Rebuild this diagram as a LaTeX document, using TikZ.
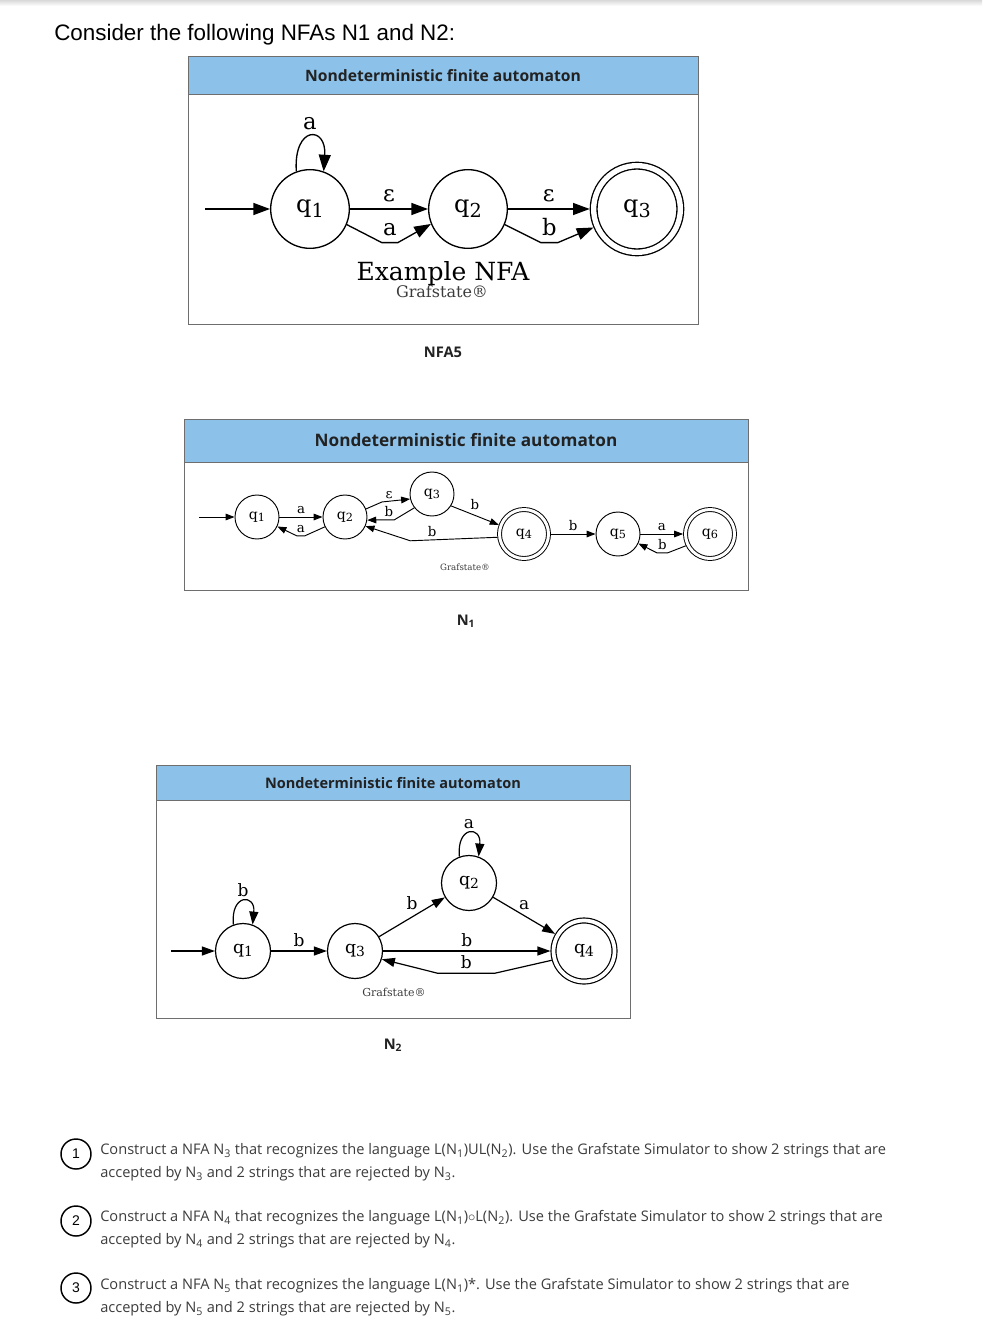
\documentclass[tikz,border=0pt]{standalone}
\usepackage{fontspec}
\setmainfont{Open Sans}
\newfontfamily\arialfont{Liberation Sans}
\newfontfamily\gvfont{DejaVu Serif}
\usetikzlibrary{arrows.meta, calc, positioning}

\definecolor{bandblue}{HTML}{8CC2EA}
\definecolor{framegray}{HTML}{6E6E6E}
\definecolor{inkgray}{HTML}{3C3C3C}
\definecolor{headink}{HTML}{222222}

% state label with graphviz-like subscript
\newcommand{\qn}[1]{q\raisebox{-0.35ex}{\scalebox{0.8}{#1}}}

\tikzset{
  panel/.style={draw=framegray, line width=0.75pt, fill=white},
  band/.style={draw=framegray, line width=0.75pt, fill=bandblue},
  bandtxt/.style={text=headink, inner sep=0pt},
  caption/.style={text=headink, font=\bfseries\fontsize{11}{13}\selectfont},
  stamp/.style={text=inkgray, inner sep=0pt, anchor=base},
  nstate/.style={circle, draw, inner sep=0pt, font=\gvfont},
  accept/.style={nstate, double},
  trans/.style={draw},
  lbl/.style={font=\gvfont, inner sep=0pt, anchor=base},
  qnum/.style={circle, draw, line width=1.1pt, minimum size=22.5pt, inner sep=0pt,
    font=\arialfont\fontsize{10.5}{12}\selectfont},
  qtext/.style={anchor=base west, inner sep=0pt, text=inkgray,
    font=\fontsize{10.95}{14}\selectfont}
}

\begin{document}
\begin{tikzpicture}[x=0.75pt, y=-0.75pt]
    \useasboundingbox (0,0) rectangle (982,1334);
    \fill[white] (0,0) rectangle (982,1334);
    \shade[top color=gray!30, bottom color=white] (0,0) rectangle (982,6);

    \node[anchor=base west, inner sep=0pt, font=\arialfont\fontsize{16.8}{19}\selectfont]
        (title) at (54,40.5) {Consider the following NFAs N1 and N2:};

    % ---------- NFA5 ----------
    \draw[panel] (188,57) rectangle (698,324);
    \draw[band] (188,57) rectangle (698,95);
    \node[bandtxt, font=\bfseries\fontsize{11.75}{13}\selectfont] (headA) at (443,76)
        {Nondeterministic finite automaton};

    \begin{scope}[
        nstate/.append style={minimum size=59pt, line width=1pt, font=\gvfont\fontsize{18}{18}\selectfont},
        accept/.append style={minimum size=65pt, double distance=4pt, outer sep=3pt},
        trans/.append style={line width=1pt, -{Triangle[length=12.5pt, width=9pt]}},
        lbl/.append style={font=\gvfont\fontsize{17}{17}\selectfont, yshift=5.3pt}]

    % Define the states
    \coordinate (a0) at (205,209);
    \node[nstate] (a1) at (310,209) {\qn{1}};
    \node[nstate] (a2) at (468,209) {\qn{2}};
    \node[accept] (a3) at (637,209) {\qn{3}};

    % Transitions
    \draw[trans] (a0) -- (a1);
    \draw[trans] (a1.110) .. controls +(-3,-46) and +(3,-46) .. (a1.70) node[lbl, midway] {a};
    \draw[trans] (a1) -- (a2) node[lbl, midway] {ε};
    \draw[trans] (a1.-23) -- ++(35,18) -- ++(16,0) node[lbl, midway] {a} -- (a2.-158);
    \draw[trans] (a2) -- (a3) node[lbl, midway] {ε};
    \draw[trans] (a2.-23) -- ++(36,18) -- ++(17,0) node[lbl, midway] {b} -- (a3.-157);
    \end{scope}

    \node[stamp, font=\gvfont\fontsize{18.75}{19}\selectfont, text=black] (exname) at (443,280) {Example NFA};
    \node[stamp, font=\gvfont\fontsize{12}{13}\selectfont] (stampA) at (442,297) {Grafstate®};
    \node[caption] (capA) at (443,352) {NFA5};

    % ---------- N1 ----------
    \draw[panel] (184,419) rectangle (748,590);
    \draw[band] (184,419) rectangle (748,462);
    \node[bandtxt, font=\bfseries\fontsize{12.9}{14}\selectfont] (headB) at (466,440)
        {Nondeterministic finite automaton};

    \begin{scope}[
        nstate/.append style={minimum size=33pt, line width=0.7pt, font=\gvfont\fontsize{10.5}{11}\selectfont},
        accept/.append style={minimum size=36.75pt, double distance=2.25pt, outer sep=1.8pt},
        trans/.append style={line width=0.7pt, -{Triangle[length=6.75pt, width=5pt]}},
        lbl/.append style={font=\gvfont\fontsize{10}{10}\selectfont, yshift=2.3pt}]

    % Define the states
    \coordinate (b0) at (199,517);
    \node[nstate] (b1) at (257,517) {\qn{1}};
    \node[nstate] (b2) at (345,517) {\qn{2}};
    \node[nstate] (b3) at (432,494) {\qn{3}};
    \node[accept] (b4) at (524,534) {\qn{4}};
    \node[nstate] (b5) at (618,534) {\qn{5}};
    \node[accept] (b6) at (710,534) {\qn{6}};

    % Transitions
    \draw[trans] (b0) -- (b1);
    \draw[trans] (b1) -- (b2) node[lbl, midway] {a};
    \draw[trans] (b2.-154) -- ++(-20,9) -- ++(-8,0) node[lbl, midway] {a} -- (b1.-25);
    \draw[trans] (b2.21) -- ++(16,-7) -- (b3.-167) node[lbl, pos=0.25] {ε};
    \draw[trans] (b3.-142) -- ++(-20,12) -- ++(-11,0) node[lbl, midway] {b} -- (b2.-8);
    \draw[trans] (b3.-32) -- (b4.160) node[lbl, midway, yshift=2pt] {b};
    \draw[trans] (b4.-173) -- ++(-87,3.5) node[lbl, pos=0.75] {b} -- (b2.-24);
    \draw[trans] (b4) -- (b5) node[lbl, midway] {b};
    \draw[trans] (b5) -- (b6) node[lbl, midway] {a};
    \draw[trans] (b6.-154) -- ++(-18,7) -- ++(-11,0) node[lbl, midway] {b} -- (b5.-25);
    \end{scope}

    \node[stamp, font=\gvfont\fontsize{6.5}{7}\selectfont] (stampB) at (465,570) {Grafstate®};
    \node[caption] (capB) at (466,621) {N\textsubscript{1}};

    % ---------- N2 ----------
    \draw[panel] (156,765) rectangle (630,1018);
    \draw[band] (156,765) rectangle (630,800);
    \node[bandtxt, font=\bfseries\fontsize{10.9}{12}\selectfont] (headC) at (393,783)
        {Nondeterministic finite automaton};

    \begin{scope}[
        nstate/.append style={minimum size=41.25pt, line width=0.9pt, font=\gvfont\fontsize{13}{14}\selectfont},
        accept/.append style={minimum size=45.75pt, double distance=2.8pt, outer sep=2.3pt},
        trans/.append style={line width=0.9pt, -{Triangle[length=9.75pt, width=6.75pt]}},
        lbl/.append style={font=\gvfont\fontsize{12.75}{13}\selectfont, yshift=3.4pt}]

    % Define the states
    \coordinate (c0) at (171,951);
    \node[nstate] (c1) at (243,951) {\qn{1}};
    \node[nstate] (c3) at (355,951) {\qn{3}};
    \node[nstate] (c2) at (469,883) {\qn{2}};
    \node[accept] (c4) at (584,951) {\qn{4}};

    % Transitions
    \draw[trans] (c0) -- (c1);
    \draw[trans] (c1.110) .. controls +(-3,-31) and +(3,-31) .. (c1.70) node[lbl, midway] {b};
    \draw[trans] (c1) -- (c3) node[lbl, midway] {b};
    \draw[trans] (c3) -- (c2) node[lbl, midway, yshift=1.9pt] {b};
    \draw[trans] (c2.110) .. controls +(-3,-31) and +(3,-31) .. (c2.70) node[lbl, midway] {a};
    \draw[trans] (c2) -- (c4) node[lbl, midway, yshift=1.2pt] {a};
    \draw[trans] (c3) -- (c4) node[lbl, midway] {b};
    \draw[trans] (c4.-164) -- ++(-57,13) -- ++(-57,0) node[lbl, midway] {b} -- (c3.-17);
    \end{scope}

    \node[stamp, font=\gvfont\fontsize{8.25}{9}\selectfont] (stampC) at (394,996) {Grafstate®};
    \node[caption] (capC) at (393,1045) {N\textsubscript{2}};

    % ---------- questions ----------
    \foreach \n/\y in {1/1154, 2/1221, 3/1288} {
        \node[qnum] (num\n) at (76,\y) {\n};
    }
    \node[qtext] (qa1) at (100,1154.5) {Construct a NFA N\textsubscript{3} that recognizes the language L(N\textsubscript{1})UL(N\textsubscript{2}). Use the Grafstate Simulator to show 2 strings that are};
    \node[qtext] (qa2) at (100,1177.5) {accepted by N\textsubscript{3} and 2 strings that are rejected by N\textsubscript{3}.};
    \node[qtext] (qb1) at (100,1221.5) {Construct a NFA N\textsubscript{4} that recognizes the language L(N\textsubscript{1})$\circ$L(N\textsubscript{2}). Use the Grafstate Simulator to show 2 strings that are};
    \node[qtext] (qb2) at (100,1244.5) {accepted by N\textsubscript{4} and 2 strings that are rejected by N\textsubscript{4}.};
    \node[qtext] (qc1) at (100,1289.5) {Construct a NFA N\textsubscript{5} that recognizes the language L(N\textsubscript{1})*. Use the Grafstate Simulator to show 2 strings that are};
    \node[qtext] (qc2) at (100,1312.5) {accepted by N\textsubscript{5} and 2 strings that are rejected by N\textsubscript{5}.};
\end{tikzpicture}
\end{document}
